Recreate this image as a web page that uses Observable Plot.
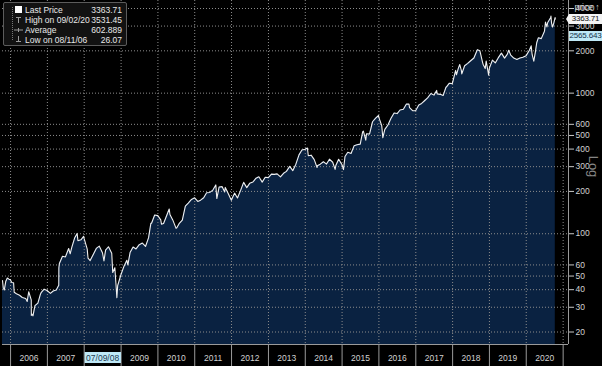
<!DOCTYPE html>
<html><head><meta charset="utf-8">
<script src="https://cdn.jsdelivr.net/npm/d3@7"></script>
<script src="https://cdn.jsdelivr.net/npm/@observablehq/plot@0.6"></script>
<style>
body{margin:0;background:#000;}
#wrap{position:relative;width:602px;height:366px;overflow:hidden;background:#000;font-family:"Liberation Sans",Arial,sans-serif;}
#wrap svg{display:block;}
.legend{position:absolute;left:3px;top:2px;width:124px;height:44px;box-sizing:border-box;border:1px solid #5c5c5c;background:#121212;border-radius:2px;color:#e8e8e8;font-size:8.5px;}
.legend .lab{position:absolute;left:21px;line-height:10px;white-space:nowrap;}
.legend .val{position:absolute;right:4px;line-height:10px;white-space:nowrap;}
.legend svg{position:absolute;left:0;top:0;}
.plabel{position:absolute;left:569px;width:33px;height:10px;line-height:10px;font-size:8px;letter-spacing:-0.2px;text-align:center;box-sizing:border-box;white-space:nowrap;}
</style></head><body><div id="wrap"></div>
<script>
// ---- data (AMZN) ----
const dates = [
"2005-10-13","2005-10-21","2005-10-31","2005-11-15","2005-11-30","2005-12-15","2005-12-30",
"2006-01-13","2006-01-31","2006-02-06","2006-02-28","2006-03-31","2006-04-27","2006-05-31","2006-06-15","2006-06-30","2006-07-25","2006-07-26","2006-07-31","2006-08-11","2006-08-31","2006-09-29","2006-10-25","2006-10-31","2006-11-30","2006-12-29",
"2007-01-31","2007-02-28","2007-03-30","2007-04-24","2007-04-25","2007-04-30","2007-05-31","2007-06-29","2007-07-31","2007-08-15","2007-08-31","2007-09-28","2007-10-23","2007-10-31","2007-11-30","2007-12-27","2007-12-31",
"2008-01-31","2008-02-08","2008-02-29","2008-03-31","2008-04-30","2008-05-30","2008-06-30","2008-07-15","2008-07-31","2008-08-29","2008-09-30","2008-10-10","2008-10-31","2008-11-20","2008-11-28","2008-12-31",
"2009-01-30","2009-02-27","2009-03-09","2009-03-31","2009-04-30","2009-05-29","2009-06-30","2009-07-31","2009-08-31","2009-09-30","2009-10-23","2009-10-30","2009-11-30","2009-12-31",
"2010-01-29","2010-02-05","2010-02-26","2010-03-31","2010-04-23","2010-04-30","2010-05-28","2010-06-30","2010-07-06","2010-07-30","2010-08-31","2010-09-30","2010-10-29","2010-11-30","2010-12-31",
"2011-01-31","2011-02-28","2011-03-31","2011-04-29","2011-05-31","2011-06-30","2011-07-29","2011-08-08","2011-08-31","2011-09-30","2011-10-25","2011-10-31","2011-11-30","2011-12-30",
"2012-01-31","2012-02-29","2012-03-30","2012-04-30","2012-05-31","2012-06-29","2012-07-31","2012-08-31","2012-09-28","2012-10-31","2012-11-30","2012-12-31",
"2013-01-31","2013-02-28","2013-03-28","2013-04-30","2013-05-31","2013-06-28","2013-07-31","2013-08-30","2013-09-30","2013-10-31","2013-11-29","2013-12-31",
"2014-01-22","2014-01-31","2014-02-28","2014-03-31","2014-04-28","2014-04-30","2014-05-30","2014-06-30","2014-07-31","2014-08-29","2014-09-30","2014-10-24","2014-10-31","2014-11-28","2014-12-31",
"2015-01-15","2015-01-30","2015-02-27","2015-03-31","2015-04-30","2015-05-29","2015-06-30","2015-07-24","2015-07-31","2015-08-24","2015-08-31","2015-09-30","2015-10-30","2015-11-30","2015-12-29","2015-12-31",
"2016-01-29","2016-02-09","2016-02-29","2016-03-31","2016-04-29","2016-05-31","2016-06-30","2016-07-29","2016-08-31","2016-09-30","2016-10-25","2016-10-31","2016-11-30","2016-12-30",
"2017-01-31","2017-02-28","2017-03-31","2017-04-28","2017-05-31","2017-06-30","2017-07-27","2017-07-31","2017-08-31","2017-09-29","2017-10-27","2017-10-31","2017-11-30","2017-12-29",
"2018-01-31","2018-02-08","2018-02-28","2018-03-13","2018-03-29","2018-04-02","2018-04-30","2018-05-31","2018-06-29","2018-07-31","2018-08-31","2018-09-04","2018-09-28","2018-10-26","2018-10-31","2018-11-20","2018-11-30","2018-12-24","2018-12-31",
"2019-01-31","2019-02-28","2019-03-29","2019-04-30","2019-05-31","2019-06-28","2019-07-11","2019-07-31","2019-08-30","2019-09-30","2019-10-31","2019-11-29","2019-12-31",
"2020-01-31","2020-02-19","2020-02-28","2020-03-16","2020-03-31","2020-04-14","2020-04-30","2020-05-29","2020-06-30","2020-07-10","2020-07-24","2020-07-31","2020-08-31","2020-09-02","2020-09-08","2020-09-18","2020-09-30","2020-10-13","2020-10-15"
];
const prices = [
46.5,41.0,39.86,46.0,48.46,47.5,47.15,
45.0,44.82,38.3,37.44,36.53,35.2,34.61,33.0,38.68,33.9,26.26,26.89,26.07,30.83,32.12,37.3,38.09,40.34,39.46,
37.67,39.14,39.79,43.0,57.0,61.33,69.14,68.41,78.54,72.0,79.91,93.15,100.5,89.15,90.56,96.0,92.64,
77.70,67.0,64.47,71.30,78.63,81.62,73.33,64.0,76.34,80.81,72.76,53.0,57.24,35.03,42.70,51.28,
58.82,64.79,60.0,73.44,80.52,77.99,83.66,85.76,81.19,93.36,118.49,118.81,135.91,134.52,
125.41,117.0,118.40,135.77,150.0,137.10,125.46,109.26,110.0,117.89,124.83,157.06,165.23,175.40,180.00,
169.64,173.29,180.13,195.81,196.69,204.49,222.52,178.0,215.23,216.23,198.0,213.51,192.29,173.10,
194.44,179.69,202.51,231.90,212.91,228.35,233.30,248.27,254.32,232.89,252.05,250.87,
265.50,264.27,266.49,253.81,269.20,277.69,301.22,280.98,312.64,364.03,393.62,398.79,
407.0,358.69,362.10,336.37,296.0,304.13,312.55,324.78,312.99,339.04,322.44,287.06,305.46,338.64,310.35,
286.0,354.53,380.16,372.10,421.78,429.23,434.09,529.42,536.15,463.0,512.89,511.89,625.90,664.80,693.0,675.89,
587.00,482.07,552.52,593.64,659.59,722.79,715.62,758.81,769.16,837.31,836.0,789.82,750.57,749.87,
823.48,845.04,886.54,924.99,994.62,968.00,1046.0,987.78,980.60,961.35,1100.95,1105.28,1176.75,1169.47,
1450.89,1350.50,1512.45,1598.0,1447.34,1371.99,1566.13,1629.62,1699.80,1777.44,2012.71,2039.51,2003.00,1642.81,1598.01,1495.46,1690.17,1343.96,1501.97,
1718.73,1639.83,1780.75,1926.52,1775.07,1893.63,2017.41,1866.78,1776.29,1735.91,1776.66,1800.80,1847.84,
2008.72,2170.22,1883.75,1689.15,1949.72,2283.32,2474.00,2442.37,2758.82,3200.0,2960.0,3164.68,3450.96,3531.45,3149.85,2954.91,3148.73,3443.63,3363.71
];
const yearTicks = [2006,2007,2008,2009,2010,2011,2012,2013,2014,2015,2016,2017,2018,2019,2020,2021];
const yearLabels = [2006,2007,2008,2009,2010,2011,2012,2013,2014,2015,2016,2017,2018,2019,2020];
const cursorYear = 2008;
const cursorLabel = "07/09/08";
const yTicks = [20,30,40,50,60,100,200,300,400,500,600,1000,2000,3000,4000];
const legendLabels = ["Last Price","High on 09/02/20","Average","Low on 08/11/06"];
const legendValues = ["3363.71","3531.45","602.889","26.07"];
const lastPrice = 3363.71;
const avgPrice = 2565.643;
const axisTitle = "Log";

// ---- chart ----
const data = dates.map((d,i)=>({date:new Date(d+"T00:00:00Z"), price:prices[i]}));
const yMin = 16.3, yMax = 4560;
const xStart = new Date("2005-10-13T00:00:00Z"), xEnd = new Date("2021-02-23T00:00:00Z");
const yr = y => new Date(Date.UTC(y,0,1));
const mid = y => new Date(Date.UTC(y,6,2));
const grid = {stroke:"#8c8c8c", strokeOpacity:1, strokeDasharray:"1,2", strokeWidth:1};

const chart = Plot.plot({
  width:602, height:366,
  marginLeft:2, marginRight:34, marginTop:0, marginBottom:22,
  style:{background:"#000", color:"#d2d2d2", fontFamily:"'Liberation Sans',Arial,sans-serif", fontSize:"8.5px"},
  x:{type:"utc", domain:[xStart,xEnd]},
  y:{type:"log", domain:[yMin,yMax]},
  marks:[
    Plot.areaY(data,{x:"date", y1:yMin, y2:"price", fill:"#0a2241"}),
    Plot.ruleY(yTicks, {y:d=>d, ...grid}),
    Plot.gridX(yearTicks.map(yr), grid),
    Plot.lineY(data,{x:"date", y:"price", stroke:"#f0f0f0", strokeWidth:1.1}),
    Plot.ruleX([xEnd],{stroke:"#9a9a9a"}),
    Plot.ruleY([yMin],{stroke:"#9a9a9a"}),
    Plot.axisY(yTicks,{anchor:"right", tickSpacing:2, tickSize:5, tickPadding:2, tickFormat:d=>String(d), stroke:"#c8c8c8", fill:"#d2d2d2", fontSize:8.5}),
    Plot.axisX(yearTicks.map(yr),{anchor:"bottom", tickSize:22, tickFormat:()=>"", stroke:"#9a9a9a"}),
    Plot.text(yearLabels.filter(y=>y!==cursorYear),{x:mid, frameAnchor:"bottom", dy:16, text:d=>String(d), fill:"#d2d2d2", fontSize:8.5}),
    Plot.text([cursorYear],{x:mid, frameAnchor:"bottom", dy:16, text:()=>cursorLabel, fill:"#1c3a52", fontSize:8.5}),
    Plot.text([axisTitle],{x:()=>xEnd, frameAnchor:"middle", dx:25, dy:-6, rotate:90, fill:"#858585", fontSize:13})
  ]
});
const wrap = document.getElementById("wrap");
wrap.appendChild(chart);

// background for the cursor date label
for (const t of Array.from(chart.querySelectorAll("text"))) {
  if (t.textContent === cursorLabel) {
    const b = t.getBBox();
    const r = document.createElementNS("http://www.w3.org/2000/svg","rect");
    r.setAttribute("x", b.x-1.5); r.setAttribute("y", b.y-0.5);
    r.setAttribute("width", b.width+3); r.setAttribute("height", b.height+1);
    r.setAttribute("fill", "#bfe9f7");
    if (t.getAttribute("transform")) r.setAttribute("transform", t.getAttribute("transform"));
    t.parentNode.insertBefore(r, t);
  }
}

// price labels on the right axis
const ys = chart.scale("y");
function addLabel(v, txt, bg, fg, arrow){
  const d = document.createElement("div");
  d.className = "plabel";
  d.textContent = txt;
  d.style.top = (ys.apply(v)-4.5)+"px";
  d.style.background = bg; d.style.color = fg;
  if (arrow) { d.style.left="566px"; d.style.width="36px"; d.style.paddingLeft="3px";
    d.style.clipPath="polygon(3px 0,100% 0,100% 100%,3px 100%,0 50%)"; }
  wrap.appendChild(d);
}
addLabel(lastPrice, String(lastPrice), "#f4f4f4", "#111", true);
addLabel(avgPrice, String(avgPrice), "#bfe9f7", "#12324a", false);

// legend
const lg = document.createElement("div");
lg.className = "legend";
const rowsY = [2, 12, 22, 32];
let icons = '<svg width="20" height="44">'
 + '<line x1="8.5" y1="4" x2="8.5" y2="38" stroke="#777" stroke-dasharray="1,1"/>'
 + '<rect x="11" y="3" width="7" height="7" fill="#fff"/>'
 + '<path d="M12 14.5H17M14.5 14.5V20" stroke="#9a9a9a" fill="none"/>'
 + '<path d="M10 27H19M14.5 25V29" stroke="#9a9a9a" fill="none"/>'
 + '<path d="M14.5 33V38.5M12 38.5H17" stroke="#9a9a9a" fill="none"/>'
 + '</svg>';
lg.innerHTML = icons + legendLabels.map((l,i)=>
  `<span class="lab" style="top:${rowsY[i]}px">${l}</span><span class="val" style="top:${rowsY[i]}px">${legendValues[i]}</span>`).join("");
wrap.appendChild(lg);
</script>
</body></html>
